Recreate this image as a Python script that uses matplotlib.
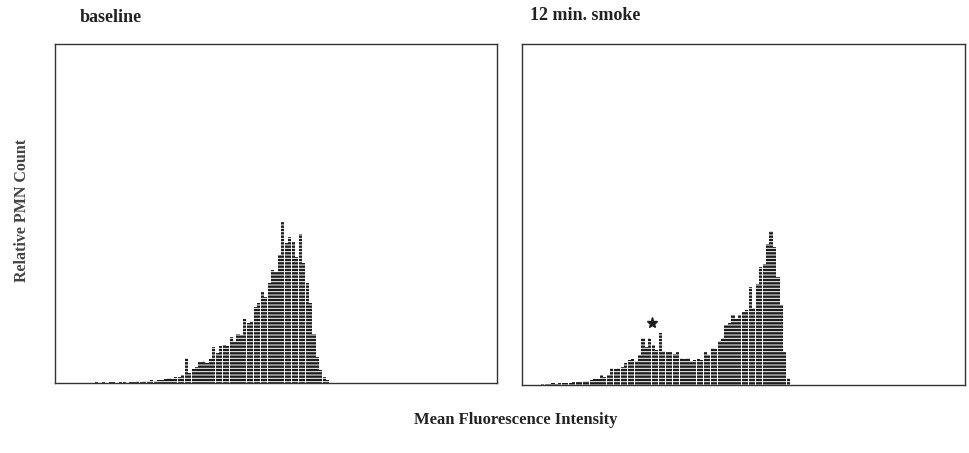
import matplotlib
matplotlib.use("Agg")
import matplotlib.pyplot as plt

# ========= DATOS =========
# canal de fluorescencia (eje x, 0..128) y cuenta relativa (eje y, 0..339)
canales_base = list(range(12, 81))
cuentas_base = [1, 0, 1, 0, 1, 1, 0, 1, 1, 0, 1, 1, 2, 1, 2, 2, 3, 2, 3, 3,
                4, 5, 4, 6, 6, 8, 25, 10, 14, 16, 21, 22, 20, 24, 36, 30, 37, 38, 37, 46,
                42, 49, 48, 64, 60, 62, 76, 80, 91, 86, 100, 113, 111, 128, 161, 140, 146, 141, 126, 149,
                120, 100, 80, 49, 26, 13, 6, 3, 0]

canales_humo = list(range(6, 79))
cuentas_humo = [1, 1, 1, 2, 1, 2, 2, 2, 2, 3, 3, 3, 4, 4, 5, 6, 6, 10, 8, 10,
                17, 16, 17, 18, 22, 25, 26, 24, 30, 47, 38, 47, 40, 35, 52, 34, 33, 33, 31, 33,
                27, 26, 27, 24, 25, 26, 25, 33, 30, 37, 36, 44, 47, 60, 62, 70, 66, 70, 73, 75,
                97, 77, 100, 117, 120, 140, 153, 137, 107, 80, 33, 7, 0]

titulos = ["baseline", "12 min. smoke"]
estrella_canal = 37.7
estrella_altura = 62

# ========= ESTILO =========
plt.rcParams['font.family'] = ['Liberation Serif', 'DejaVu Serif']
plt.rcParams['font.weight'] = 'bold'
plt.rcParams['hatch.linewidth'] = 0.7

fig = plt.figure(figsize=(9.7, 4.53), dpi=100)
ax1 = fig.add_axes([0.0567, 0.1545, 0.4557, 0.748])
ax2 = fig.add_axes([0.538, 0.150, 0.4567, 0.753])

for ax, canales, cuentas, titulo in [(ax1, canales_base, cuentas_base, titulos[0]),
                                     (ax2, canales_humo, cuentas_humo, titulos[1])]:
    # rayas blancas horizontales: el hatch toma el color del borde
    ax.bar(canales, cuentas, width=0.9, color='#1c1c1c', edgecolor='white',
           linewidth=0, hatch='-----')
    ax.set_xlim(0, 128)
    ax.set_ylim(0, 339)
    ax.set_xticks([])
    ax.set_yticks([])
    for s in ax.spines.values():
        s.set_color('#333333')
        s.set_linewidth(1.0)

fig.text(80 / 970, 1 - 18 / 453, titulos[0], fontsize=13, ha='left', va='center', color='#222222')
fig.text(530 / 970, 1 - 15 / 453, titulos[1], fontsize=13, ha='left', va='center', color='#222222')

ax2.plot(estrella_canal, estrella_altura, marker='*', markersize=8, color='#1c1c1c', linestyle='none')

fig.text(22 / 970, 1 - 210 / 453, "Relative PMN Count", rotation=90, fontsize=11.5,
         ha='center', va='center', color='#444444')
fig.text(516 / 970, 1 - 420 / 453, "Mean Fluorescence Intensity", fontsize=12,
         ha='center', va='center', color='#222222')

fig.savefig("out.png", dpi=100)
